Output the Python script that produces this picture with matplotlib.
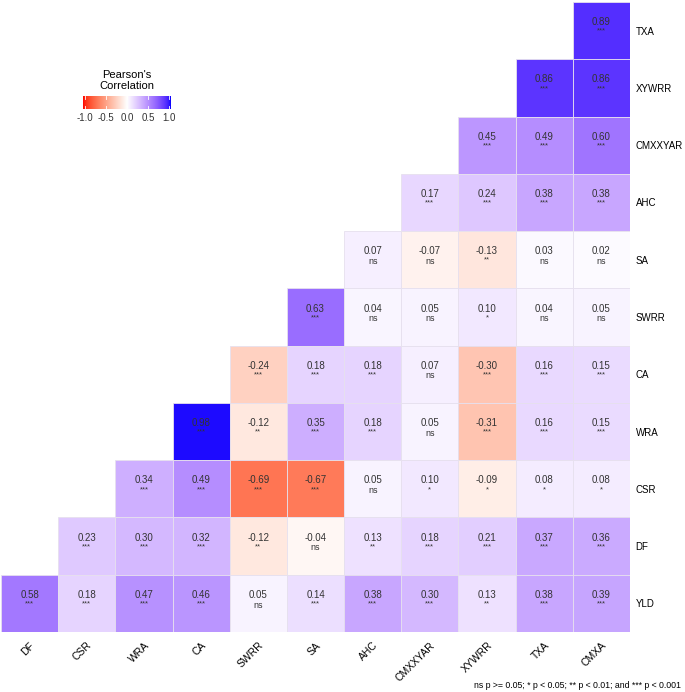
import numpy as np
import matplotlib.pyplot as plt
from matplotlib.colors import ListedColormap

plt.rcParams['font.family'] = ['Liberation Sans', 'DejaVu Sans']

# column (x) and row (y, top to bottom) variables
x_vars = ['DF', 'CSR', 'WRA', 'CA', 'SWRR', 'SA', 'AHC', 'CMXXYAR', 'XYWRR', 'TXA', 'CMXA']
y_vars = ['TXA', 'XYWRR', 'CMXXYAR', 'AHC', 'SA', 'SWRR', 'CA', 'WRA', 'CSR', 'DF', 'YLD']

# each row only holds the cells at the right end (upper triangle)
r_vals = [
    [0.89],
    [0.86, 0.86],
    [0.45, 0.49, 0.60],
    [0.17, 0.24, 0.38, 0.38],
    [0.07, -0.07, -0.13, 0.03, 0.02],
    [0.63, 0.04, 0.05, 0.10, 0.04, 0.05],
    [-0.24, 0.18, 0.18, 0.07, -0.30, 0.16, 0.15],
    [0.98, -0.12, 0.35, 0.18, 0.05, -0.31, 0.16, 0.15],
    [0.34, 0.49, -0.69, -0.67, 0.05, 0.10, -0.09, 0.08, 0.08],
    [0.23, 0.30, 0.32, -0.12, -0.04, 0.13, 0.18, 0.21, 0.37, 0.36],
    [0.58, 0.18, 0.47, 0.46, 0.05, 0.14, 0.38, 0.30, 0.13, 0.38, 0.39],
]
sig = [
    ['***'],
    ['***', '***'],
    ['***', '***', '***'],
    ['***', '***', '***', '***'],
    ['ns', 'ns', '**', 'ns', 'ns'],
    ['***', 'ns', 'ns', '*', 'ns', 'ns'],
    ['***', '***', '***', 'ns', '***', '***', '***'],
    ['***', '**', '***', '***', 'ns', '***', '***', '***'],
    ['***', '***', '***', '***', 'ns', '*', '*', '*', '*'],
    ['***', '***', '***', '**', 'ns', '**', '***', '***', '***', '***'],
    ['***', '***', '***', '***', 'ns', '***', '***', '***', '**', '***', '***'],
]

caption = 'ns p >= 0.05; * p < 0.05; ** p < 0.01; and *** p < 0.001'


# ggplot-like gradient2 (red - white - blue), interpolated in Lab space
def srgb_to_lab(rgb):
    rgb = np.asarray(rgb, float)
    lin = np.where(rgb <= 0.04045, rgb / 12.92, ((rgb + 0.055) / 1.055) ** 2.4)
    M = np.array([[0.4124, 0.3576, 0.1805], [0.2126, 0.7152, 0.0722], [0.0193, 0.1192, 0.9505]])
    xyz = M @ lin / np.array([0.95047, 1.0, 1.08883])
    f = np.where(xyz > 0.008856, np.cbrt(xyz), 7.787 * xyz + 16 / 116)
    return np.array([116 * f[1] - 16, 500 * (f[0] - f[1]), 200 * (f[1] - f[2])])


def lab_to_srgb(lab):
    L, a, b = lab
    fy = (L + 16) / 116
    fx = fy + a / 500
    fz = fy - b / 200
    f = np.array([fx, fy, fz])
    xyz = np.where(f ** 3 > 0.008856, f ** 3, (f - 16 / 116) / 7.787) * np.array([0.95047, 1.0, 1.08883])
    Minv = np.array([[3.2406, -1.5372, -0.4986], [-0.9689, 1.8758, 0.0415], [0.0557, -0.2040, 1.0570]])
    lin = np.clip(Minv @ xyz, 0, 1)
    rgb = np.where(lin <= 0.0031308, 12.92 * lin, 1.055 * lin ** (1 / 2.4) - 0.055)
    return np.clip(rgb, 0, 1)


lab_r = srgb_to_lab([1, 0, 0])
lab_w = srgb_to_lab([1, 1, 1])
lab_b = srgb_to_lab([0, 0, 1])
cols = []
for t in np.linspace(-1, 1, 256):
    if t < 0:
        lab = lab_w + (lab_r - lab_w) * (-t)
    else:
        lab = lab_w + (lab_b - lab_w) * t
    cols.append(lab_to_srgb(lab))
cmap = ListedColormap(cols)

fig = plt.figure(figsize=(6.85, 6.92), dpi=100)
W, H = 685, 692
ax = fig.add_axes([1 / W, 1 - 632 / H, 629 / W, 630 / H])

n = len(x_vars)
for i, (row, ss) in enumerate(zip(r_vals, sig)):
    yy = n - 1 - i
    start = n - len(row)
    for k, (v, s) in enumerate(zip(row, ss)):
        xx = start + k
        ax.add_patch(plt.Rectangle((xx, yy), 1, 1, facecolor=cmap((v + 1) / 2),
                                   edgecolor='#e6e0ee', linewidth=0.6))
        ax.text(xx + 0.5, yy + 0.56, f'{v:.2f}', ha='center', va='bottom', fontsize=7, color='#333333')
        ax.text(xx + 0.5, yy + 0.55, s, ha='center', va='top', fontsize=6.5 if s == 'ns' else 5.5,
                color='#333333')

ax.set_xlim(0, n)
ax.set_ylim(0, n)
ax.set_xticks(np.arange(n) + 0.5)
ax.set_xticklabels(x_vars, rotation=45, ha='right', rotation_mode='anchor', fontsize=7.5)
ax.set_yticks(np.arange(n) + 0.5)
ax.set_yticklabels(y_vars[::-1], fontsize=7)
ax.yaxis.tick_right()
ax.tick_params(axis='y', length=0, pad=4)
ax.tick_params(axis='x', length=0, pad=6)
for sp in ax.spines.values():
    sp.set_visible(False)

# legend colourbar
cax = fig.add_axes([83 / W, 1 - 109 / H, 88 / W, 13 / H])
grad = np.linspace(-1, 1, 256).reshape(1, -1)
cax.imshow(grad, cmap=cmap, aspect='auto', extent=[-1.05, 1.05, 0, 1], vmin=-1, vmax=1)
for t in [-1, -0.5, 0, 0.5, 1]:
    cax.plot([t, t], [0, 0.2], color='white', lw=0.6)
    cax.plot([t, t], [0.8, 1], color='white', lw=0.6)
cax.set_xlim(-1.05, 1.05)
cax.set_xticks([-1, -0.5, 0, 0.5, 1])
cax.set_xticklabels(['-1.0', '-0.5', '0.0', '0.5', '1.0'], fontsize=7, color='#333333')
cax.tick_params(length=0, pad=3)
cax.set_yticks([])
for sp in cax.spines.values():
    sp.set_visible(False)
fig.text(127 / W, 1 - 70 / H, "Pearson's\nCorrelation", ha='center', va='top', fontsize=8,
         linespacing=1.15)

fig.text(681 / W, 1 - 686 / H, caption, ha='right', va='center', fontsize=6.3)

fig.savefig('out.png', dpi=100)
